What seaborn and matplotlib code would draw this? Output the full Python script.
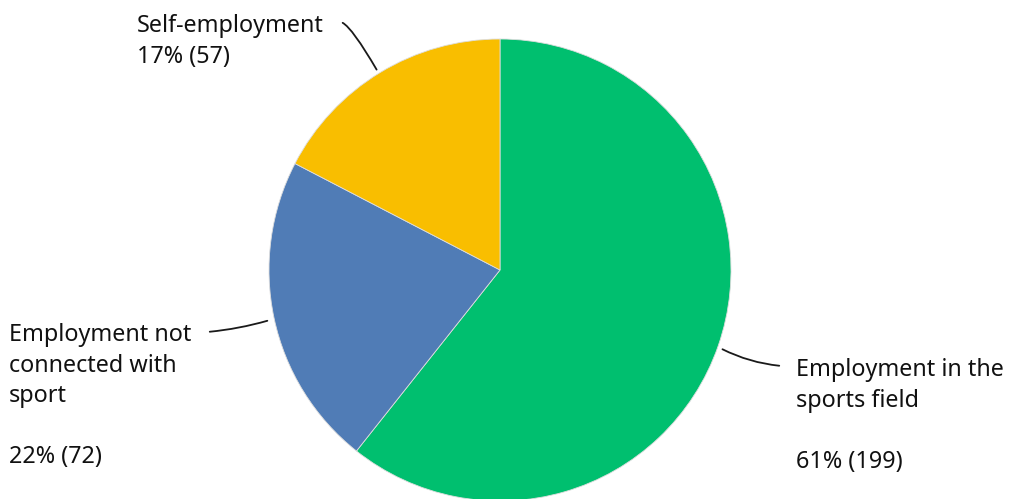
import matplotlib
matplotlib.use("Agg")
import matplotlib.pyplot as plt
import seaborn as sns

categories = ["Employment in the sports field", "Employment not connected with sport", "Self-employment"]
counts = [199, 72, 57]
percents = [61, 22, 17]
colors = ["#00BF6F", "#507CB6", "#F9BE00"]

sns.set_theme(style="white")
plt.rcParams['font.family'] = ['Noto Sans', 'DejaVu Sans']

W, H = 1009, 499
fig = plt.figure(figsize=(W / 100, H / 100), dpi=100)
ax = fig.add_axes([0, 0, 1, 1])

def py(y):
    return H - y

cx, cy, r = 500, 270, 231
ax.pie(counts, colors=colors, startangle=90, counterclock=False,
       center=(cx, py(cy)), radius=r,
       wedgeprops=dict(linewidth=0.6, edgecolor="#dddddd"))
ax.set_xlim(0, W)
ax.set_ylim(0, H)
ax.set_aspect('equal')
ax.axis('off')

fs = 16.8
tc = "#111111"

def lines(x, ys, texts):
    for y, t in zip(ys, texts):
        ax.text(x, py(y), t, fontsize=fs, color=tc, va='center', ha='left',
                fontweight='medium')

# Self-employment
lines(137, [26, 57], ["Self-employment", f"{percents[2]}% ({counts[2]})"])
# Employment not connected with sport
lines(9, [335, 366, 396, 457], ["Employment not", "connected with", "sport", f"{percents[1]}% ({counts[1]})"])
# Employment in the sports field
lines(796, [370, 401, 462], ["Employment in the", "sports field", f"{percents[0]}% ({counts[0]})"])

lk = dict(color="#1a1a1a", lw=1.3)
ax.annotate("", xy=(378, py(72)), xytext=(340, py(22)),
            arrowprops=dict(arrowstyle='-', connectionstyle="angle3,angleA=0,angleB=-60", **lk))
ax.annotate("", xy=(270, py(320)), xytext=(207, py(332)),
            arrowprops=dict(arrowstyle='-', connectionstyle="arc3,rad=0.05", **lk))
ax.annotate("", xy=(782, py(366)), xytext=(720, py(348)),
            arrowprops=dict(arrowstyle='-', connectionstyle="arc3,rad=0.1", **lk))

fig.savefig("out.png", dpi=100)
